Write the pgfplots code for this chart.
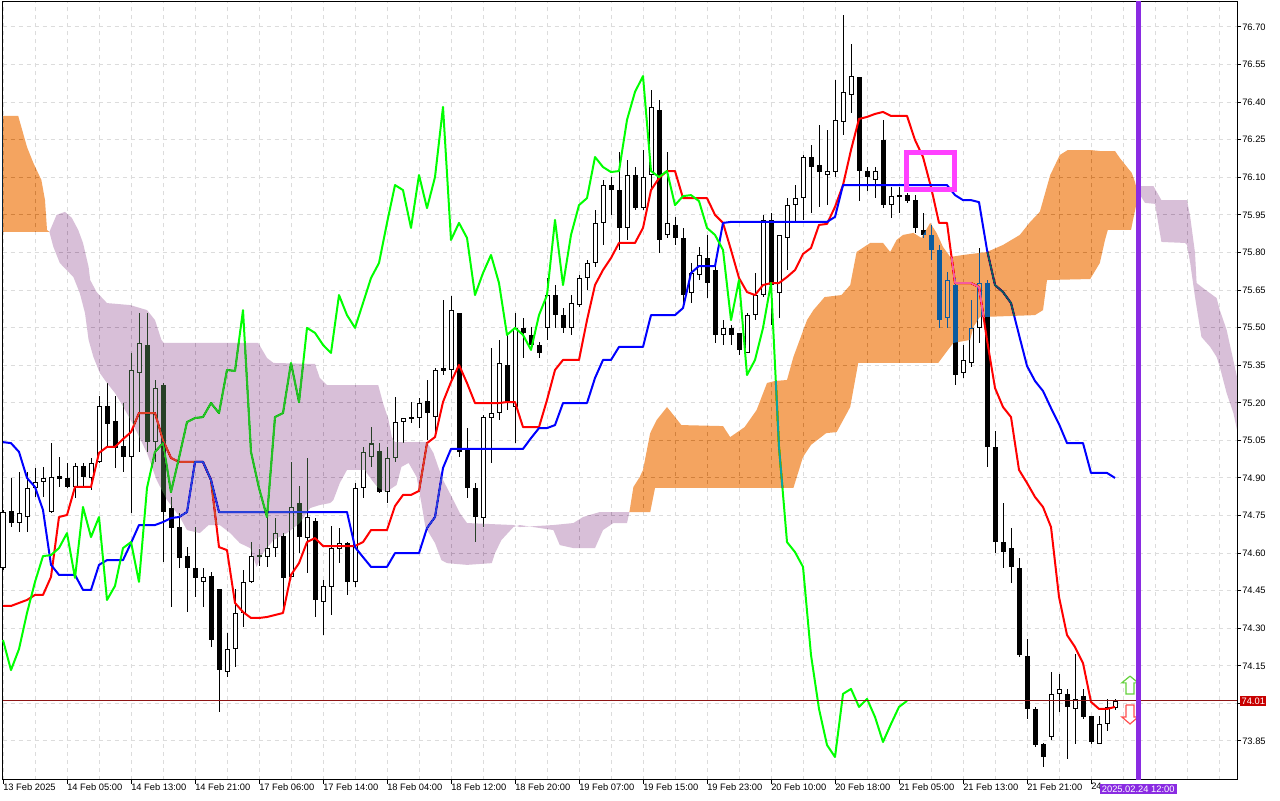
\documentclass[border=0pt]{standalone}
\usepackage{fontspec}
\setmainfont{Liberation Sans}
\usepackage{pgfplots}
\pgfplotsset{compat=1.18}
\usepackage{pgfplotstable}

\definecolor{cloudOinv}{RGB}{11,91,159}
\definecolor{cloudPinv}{RGB}{39,64,39}
\definecolor{gridc}{RGB}{220,220,220}
\definecolor{bidred}{RGB}{200,0,0}
\definecolor{bidline}{RGB}{140,20,20}
\definecolor{vlinec}{RGB}{138,43,226}
\definecolor{boxmag}{RGB}{255,64,255}
\definecolor{upg}{RGB}{100,210,60}
\definecolor{dnr}{RGB}{255,80,80}

\pgfplotstableread{
i o h l c
0 74.541 74.772 74.533 74.764
1 74.768 74.900 74.704 74.720
2 74.720 74.924 74.684 74.760
3 74.744 74.924 74.684 74.860
4 74.860 74.940 74.824 74.884
5 74.884 74.944 74.824 74.900
6 74.764 75.039 74.760 74.904
7 74.908 74.984 74.864 74.896
8 74.900 74.960 74.860 74.864
9 74.864 74.960 74.820 74.948
10 74.948 74.960 74.864 74.904
11 74.900 74.980 74.852 74.960
12 74.964 75.227 74.960 75.187
13 75.187 75.279 75.024 75.115
14 75.127 75.227 74.940 75.020
15 75.028 75.199 74.924 74.984
16 74.984 75.399 74.760 75.331
17 75.319 75.558 75.004 75.439
18 75.431 75.558 75.004 75.043
19 75.043 75.291 74.964 75.259
20 75.271 75.279 74.564 74.764
21 74.780 74.824 74.385 74.700
22 74.704 74.760 74.541 74.580
23 74.588 74.624 74.365 74.541
24 74.541 74.704 74.425 74.501
25 74.485 74.541 74.385 74.505
26 74.509 74.525 74.225 74.253
27 74.457 74.457 73.966 74.133
28 74.125 74.281 74.105 74.217
29 74.217 74.457 74.145 74.361
30 74.361 74.533 74.305 74.485
31 74.485 74.644 74.481 74.588
32 74.584 74.616 74.549 74.592
33 74.584 74.760 74.545 74.620
34 74.620 74.740 74.584 74.680
35 74.668 74.680 74.361 74.501
36 74.505 74.964 74.505 74.784
37 74.800 74.868 74.600 74.664
38 74.660 74.980 74.521 74.744
39 74.728 74.740 74.345 74.413
40 74.405 74.493 74.273 74.469
41 74.465 74.708 74.353 74.620
42 74.620 74.700 74.561 74.644
43 74.640 74.644 74.433 74.485
44 74.485 74.880 74.465 74.860
45 74.860 75.024 74.820 75.004
46 74.984 75.103 74.944 75.039
47 75.008 75.039 74.840 74.844
48 74.844 75.024 74.800 74.980
49 74.980 75.223 74.964 75.123
50 75.123 75.139 75.039 75.139
51 75.139 75.203 75.119 75.143
52 75.139 75.219 75.099 75.199
53 75.207 75.291 75.051 75.159
54 75.143 75.339 75.063 75.331
55 75.339 75.610 75.311 75.327
56 75.331 75.626 75.291 75.570
57 75.558 75.558 74.984 75.004
58 75.012 75.099 74.820 74.860
59 74.860 74.880 74.644 74.744
60 74.740 75.151 74.704 75.143
61 75.139 75.419 74.960 75.159
62 75.159 75.451 75.131 75.359
63 75.351 75.479 75.171 75.203
64 75.183 75.558 75.039 75.499
65 75.499 75.538 75.379 75.479
66 75.471 75.503 75.411 75.431
67 75.431 75.443 75.379 75.399
68 75.499 75.698 75.451 75.630
69 75.630 75.670 75.499 75.550
70 75.550 75.578 75.479 75.499
71 75.499 75.630 75.471 75.598
72 75.590 75.710 75.582 75.698
73 75.698 75.770 75.650 75.758
74 75.758 75.970 75.742 75.918
75 75.918 76.089 75.830 76.069
76 76.069 76.101 75.950 76.049
77 76.049 76.201 75.810 75.898
78 75.898 76.169 75.850 76.109
79 76.109 76.141 75.970 75.977
80 75.977 76.209 75.970 76.101
81 76.109 76.448 76.049 76.381
82 76.369 76.408 75.798 75.850
83 75.870 76.201 75.858 75.918
84 75.910 75.942 75.830 75.858
85 75.858 75.898 75.582 75.630
86 75.638 75.758 75.598 75.718
87 75.710 75.822 75.690 75.790
88 75.778 75.870 75.618 75.678
89 75.730 75.750 75.439 75.471
90 75.471 75.530 75.431 75.499
91 75.499 75.510 75.431 75.471
92 75.479 75.479 75.391 75.411
93 75.399 75.558 75.399 75.550
94 75.550 75.718 75.530 75.630
95 75.630 75.950 75.622 75.930
96 75.930 75.958 75.510 75.670
97 75.638 75.870 75.538 75.870
98 75.858 76.017 75.730 75.989
99 75.989 76.069 75.922 76.017
100 76.017 76.189 75.930 76.181
101 76.181 76.229 75.958 76.141
102 76.149 76.309 75.981 76.121
103 76.109 76.289 75.989 76.125
104 76.121 76.488 76.101 76.329
105 76.321 76.748 76.269 76.441
106 76.429 76.632 76.357 76.504
107 76.500 76.500 76.005 76.125
108 76.125 76.141 76.045 76.101
109 76.089 76.141 76.017 76.125
110 76.249 76.329 75.977 75.989
111 75.989 76.061 75.938 76.025
112 76.025 76.061 75.958 76.029
113 76.029 76.037 75.998 76.005
114 76.009 76.029 75.878 75.898
115 75.890 75.958 75.858 75.870
116 75.870 75.910 75.770 75.810
117 75.810 75.830 75.499 75.530
118 75.538 75.722 75.499 75.690
119 75.670 75.698 75.271 75.311
120 75.319 75.431 75.299 75.371
121 75.359 75.610 75.343 75.499
122 75.499 75.818 75.439 75.678
123 75.678 75.690 74.944 75.024
124 75.024 75.087 74.600 74.644
125 74.644 74.800 74.541 74.604
126 74.620 74.700 74.481 74.545
127 74.541 74.580 74.185 74.193
128 74.189 74.257 73.938 73.978
129 73.978 73.986 73.826 73.834
130 73.838 73.842 73.746 73.786
131 73.866 74.125 73.854 74.038
132 74.038 74.117 73.966 74.058
133 74.038 74.058 73.778 73.986
134 73.978 74.197 73.838 74.018
135 74.030 74.058 73.938 73.946
136 73.950 73.950 73.838 73.846
137 73.838 73.950 73.838 73.918
138 73.918 74.018 73.890 73.986
139 73.982 74.018 73.974 74.010
}\candles

\pgfplotstableread{
i v
0 74.389
1 74.389
2 74.401
3 74.413
4 74.433
5 74.433
6 74.505
7 74.744
8 74.752
9 74.864
10 74.864
11 74.864
12 75.000
13 75.024
14 75.024
15 75.055
16 75.083
17 75.159
18 75.159
19 75.159
20 75.051
21 74.980
22 74.964
23 74.964
24 74.964
25 74.964
26 74.892
27 74.624
28 74.612
29 74.401
30 74.365
31 74.341
32 74.341
33 74.345
34 74.353
35 74.361
36 74.513
37 74.560
38 74.644
39 74.660
40 74.628
41 74.628
42 74.628
43 74.628
44 74.628
45 74.644
46 74.692
47 74.692
48 74.692
49 74.788
50 74.832
51 74.832
52 74.848
53 75.039
54 75.063
55 75.203
56 75.283
57 75.351
58 75.279
59 75.199
60 75.199
61 75.199
62 75.199
63 75.203
64 75.203
65 75.103
66 75.103
67 75.103
68 75.211
69 75.331
70 75.371
71 75.371
72 75.371
73 75.530
74 75.670
75 75.730
76 75.778
77 75.838
78 75.838
79 75.838
80 75.898
81 76.049
82 76.097
83 76.125
84 76.125
85 76.017
86 76.017
87 76.017
88 76.017
89 75.950
90 75.918
91 75.810
92 75.698
93 75.642
94 75.630
95 75.670
96 75.678
97 75.678
98 75.702
99 75.730
100 75.794
101 75.818
102 75.910
103 75.914
104 75.982
105 76.069
106 76.209
107 76.333
108 76.341
109 76.353
110 76.361
111 76.345
112 76.345
113 76.345
114 76.249
115 76.181
116 76.061
117 75.918
118 75.918
119 75.678
120 75.678
121 75.678
122 75.662
123 75.451
124 75.259
125 75.183
126 75.143
127 74.932
128 74.880
129 74.824
130 74.784
131 74.704
132 74.425
133 74.273
134 74.225
135 74.161
136 74.006
137 73.978
138 73.978
139 73.986
}\tenkan

\pgfplotstableread{
i v
0 75.043
1 75.039
2 75.004
3 74.900
4 74.864
5 74.772
6 74.553
7 74.513
9 74.513
10 74.453
11 74.453
12 74.553
13 74.572
15 74.572
16 74.640
17 74.712
19 74.712
20 74.724
21 74.740
22 74.744
23 74.764
24 74.964
25 74.964
26 74.892
27 74.764
43 74.764
44 74.624
45 74.584
46 74.545
48 74.545
49 74.600
52 74.600
53 74.700
54 74.744
55 74.940
56 75.016
65 75.016
66 75.059
67 75.099
68 75.099
69 75.111
70 75.199
73 75.199
74 75.299
75 75.371
76 75.371
77 75.423
80 75.423
81 75.550
84 75.550
85 75.578
86 75.718
87 75.746
89 75.746
90 75.918
91 75.922
103 75.922
104 75.942
105 76.069
118 76.069
119 76.029
120 76.009
121 76.009
122 76.001
123 75.810
124 75.670
125 75.642
126 75.598
127 75.471
128 75.347
129 75.287
130 75.247
131 75.179
132 75.115
133 75.039
135 75.039
136 74.920
138 74.920
139 74.900
}\kijun

\begin{document}
\begin{tikzpicture}
\useasboundingbox (0pt,0pt) rectangle (960pt,600pt);
\fill[white] (0pt,0pt) rectangle (960pt,600pt);
\begin{axis}[
  at={(1.875pt,15.375pt)}, anchor=south west,
  scale only axis, width=925.875pt, height=583.5pt,
  xmin=-0.0625, xmax=154.25, ymin=73.6963, ymax=76.8018,
  clip=false,
  axis line style={black, line width=0.75pt},
  tick style={black, line width=0.75pt},
  tick align=outside, major tick length=3pt, minor tick length=0pt,
  xtick pos=bottom, ytick pos=right, yticklabel pos=right,
  xtick={0,8,...,136},
  xticklabels={13 Feb 2025,14 Feb 05:00,14 Feb 13:00,14 Feb 21:00,17 Feb 06:00,17 Feb 14:00,18 Feb 04:00,18 Feb 12:00,18 Feb 20:00,19 Feb 07:00,19 Feb 15:00,19 Feb 23:00,20 Feb 10:00,20 Feb 18:00,21 Feb 05:00,21 Feb 13:00,21 Feb 21:00,24},
  minor xtick={4,12,20,28,36,44,52,60,68,76,84,92,100,108,116,124,132,140,144,148,152},
  ytick={73.85,74.00,74.15,74.30,74.45,74.60,74.75,74.90,75.05,75.20,75.35,75.50,75.65,75.80,75.95,76.10,76.25,76.40,76.55,76.70},
  yticklabels={73.85,,74.15,74.30,74.45,74.60,74.75,74.90,75.05,75.20,75.35,75.50,75.65,75.80,75.95,76.10,76.25,76.40,76.55,76.70},
  grid=both,
  major grid style={gridc, dash pattern=on 3pt off 3pt, line width=0.75pt},
  minor grid style={gridc, dash pattern=on 3pt off 3pt, line width=0.75pt},
  tick label style={font=\fontsize{7}{8.4}\selectfont, inner sep=0pt},
  xticklabel style={anchor=north west, yshift=0.4pt},
  yticklabel style={anchor=west, xshift=0.75pt},
]
% wicks
\addplot[draw=none, mark=none, error bars/.cd, y dir=both, y explicit, error mark=none,
  error bar style={draw=black, line width=0.75pt}]
  table[x=i, y expr={(\thisrow{h}+\thisrow{l})/2}, y error expr={(\thisrow{h}-\thisrow{l})/2}] {\candles};
% bearish bodies
\addplot[draw=none, mark=none, restrict expr to domain={\thisrow{o}-\thisrow{c}}{0.0001:10},
  error bars/.cd, y dir=both, y explicit, error mark=none,
  error bar style={draw=black, line width=3.75pt}]
  table[x=i, y expr={(\thisrow{o}+\thisrow{c})/2}, y error expr={max(abs(\thisrow{o}-\thisrow{c})/2,0.002)}] {\candles};
% bullish bodies outline
\addplot[draw=none, mark=none, restrict expr to domain={\thisrow{c}-\thisrow{o}}{0:10},
  error bars/.cd, y dir=both, y explicit, error mark=none,
  error bar style={draw=black, line width=3.75pt}]
  table[x=i, y expr={(\thisrow{o}+\thisrow{c})/2}, y error expr={max(abs(\thisrow{o}-\thisrow{c})/2,0.002)}] {\candles};
% bullish bodies inside
\addplot[draw=none, mark=none, restrict expr to domain={\thisrow{c}-\thisrow{o}}{0:10},
  error bars/.cd, y dir=both, y explicit, error mark=none,
  error bar style={draw=white, line width=2.25pt}]
  table[x=i, y expr={(\thisrow{o}+\thisrow{c})/2}, y error expr={max(abs(\thisrow{o}-\thisrow{c})/2-0.004,0)}] {\candles};
% Ichimoku lines
\addplot[red, line width=1.5pt, line join=round, mark=none] table[x=i, y=v] {\tenkan};
\addplot[blue, line width=1.5pt, line join=round, mark=none] table[x=i, y=v] {\kijun};
\addplot[green, line width=1.5pt, line join=round, mark=none, restrict x to domain=0:200]
  table[x expr=\thisrow{i}-26, y=c] {\candles};
% cloud (drawn like the terminal: inverted colour, difference blend)
\addplot[draw=none, fill=cloudOinv, blend mode=difference] coordinates {
(-0.0625,76.345) (1.9,76.345) (3,76.221) (3.8,76.157) (4.8,76.089) (5.25,76.009) (5.5,75.890) (5.8,75.882) (-0.0625,75.882)};
\addplot[draw=none, fill=cloudPinv, blend mode=difference] coordinates {
(5.8,75.882) (6.7,75.950) (7.75,75.962) (8.6,75.938) (9.4,75.890) (10,75.838) (10.7,75.742) (10.9,75.690) (11.7,75.642) (13,75.598) (15.9,75.590) (18,75.570) (19,75.530) (19.8,75.451) (20.1,75.439) (31.9,75.439) (33,75.379) (33.8,75.359) (39,75.355) (39.6,75.299) (40.5,75.271) (46.9,75.271) (47.5,75.199) (48.2,75.131) (48.6,75.063) (49,75.043) (53,75.043) (53.8,75.000) (54.4,74.944) (55,74.892) (56.1,74.824) (57.1,74.760) (58,74.720) (63.8,74.712) (64.6,74.704) (68.8,74.712) (71.3,74.720) (72.5,74.744) (74.6,74.764) (78.3,74.764)
(78,74.720) (76.3,74.720) (75,74.692) (74,74.620) (71.3,74.620) (69.6,74.632) (68.8,74.692) (64.6,74.712) (63.8,74.704) (62.3,74.652) (61.5,74.600) (61.1,74.560) (58,74.553) (55.5,74.560) (54.8,74.572) (54,74.640) (52.8,74.704) (52.3,74.800) (51.7,74.904) (50.7,74.960) (49.8,74.944) (49.2,74.872) (47.9,74.844) (46.9,74.860) (46.1,74.892) (45.2,74.932) (43,74.932) (42.1,74.880) (41.3,74.812) (40.9,74.800) (39.6,74.792) (38.4,74.780) (37.1,74.720) (35.5,74.680) (33.8,74.652) (32.5,74.600) (31.7,74.545) (30.9,74.620) (29.6,74.640) (28.4,74.680) (27.1,74.712) (25.7,74.712) (24.6,74.680) (23,74.692) (22.1,74.744) (20.5,74.812) (19.2,74.892) (18,75.000) (16.3,75.111) (15.05,75.183) (14,75.239) (13,75.279) (12.1,75.319) (11.3,75.383) (10.7,75.451) (10.25,75.558) (9.6,75.638) (8.8,75.702) (7.1,75.758) (6.3,75.822)};
\addplot[draw=none, fill=cloudOinv, blend mode=difference] coordinates {
(78.3,74.764) (78.8,74.864) (79.6,74.904) (80,74.932) (80.9,75.079) (81.7,75.131) (83,75.183) (84.8,75.111) (90,75.107) (90.9,75.063) (92.7,75.103) (94.2,75.171) (95.5,75.279) (96.5,75.287) (98,75.291) (98.8,75.383) (100.5,75.530) (101.3,75.570) (102.7,75.622) (104.8,75.630) (105.9,75.670) (106.7,75.802) (108.4,75.838) (110,75.838) (110.9,75.802) (111.7,75.850) (112.5,75.870) (113.8,75.878) (114.8,75.858) (115.9,75.918) (116.7,75.878) (117.5,75.822) (118.4,75.782) (120,75.790) (123,75.802) (125,75.830) (127.1,75.870) (128.4,75.922) (129.6,75.962) (130.9,76.109) (132.1,76.189) (133.1,76.209) (135.9,76.209) (137.1,76.205) (139,76.205) (139.6,76.177) (140.5,76.141) (141.1,76.117) (141.5,76.081) (141.9,76.029)
(141.9,76.009) (141.6,75.982) (141.25,75.930) (141,75.890) (138.1,75.890) (137.75,75.850) (137.1,75.758) (135.9,75.694) (130.5,75.690) (130,75.570) (129,75.550) (122.1,75.542) (121.3,75.503) (120.9,75.451) (118.8,75.439) (118.4,75.423) (116.9,75.359) (106.9,75.359) (105.9,75.183) (104.2,75.083) (102.9,75.079) (101,75.032) (100,74.984) (98.8,74.860) (81.5,74.860) (80.9,74.764)};
\addplot[draw=none, fill=cloudPinv, blend mode=difference] coordinates {
(141.9,76.065) (143.8,76.065) (144.8,76.009) (148,76.009) (148.4,75.942) (149,75.798) (149.2,75.678) (150,75.658) (151.7,75.618) (152.1,75.570) (152.95,75.491) (154.25,75.303)
(154.25,75.091) (153.8,75.159) (152.95,75.239) (152.1,75.343) (151.7,75.383) (150.9,75.423) (149.8,75.463) (149,75.622) (148.4,75.758) (148,75.830) (147.75,75.838) (144.8,75.842) (144,75.994) (142.75,75.998) (141.9,76.041)};
% bid line
\addplot[bidline, line width=0.75pt, mark=none] coordinates {(-0.0625,74.01) (154.25,74.01)};
% highlight box
\addplot[boxmag, line width=3.75pt, line cap=rect, mark=none] coordinates {
(112.94,76.199) (118.9,76.199) (118.9,76.051) (112.94,76.051) (112.94,76.199)};
% arrows
\addplot[draw=upg, fill=white, line width=0.9pt, mark=none] coordinates {
(140.875,74.109) (141.9,74.082) (141.375,74.082) (141.375,74.038) (140.375,74.038) (140.375,74.082) (139.85,74.082) (140.875,74.109)};
\addplot[draw=dnr, fill=white, line width=0.9pt, mark=none] coordinates {
(140.375,73.994) (141.375,73.994) (141.375,73.946) (141.9,73.946) (140.875,73.918) (139.85,73.946) (140.375,73.946) (140.375,73.994)};
% vertical time line
\addplot[vlinec, line width=3.75pt, mark=none] coordinates {(141.9,73.6963) (141.9,76.8018)};
\coordinate (vlb) at (axis cs:141.9,73.6963);
\coordinate (bidr) at (axis cs:154.25,74.01);
\end{axis}
\node[anchor=north, fill=vlinec, text=white, inner xsep=1.6pt, inner ysep=1pt, font=\fontsize{7}{8.4}\selectfont] at ([yshift=-3.4pt]vlb) {2025.02.24 12:00};
\node[anchor=west, fill=bidred, text=white, inner xsep=1pt, inner ysep=1.2pt, font=\fontsize{7}{8.4}\selectfont] at ([xshift=2.25pt]bidr) {74.01};
\end{tikzpicture}
\end{document}
